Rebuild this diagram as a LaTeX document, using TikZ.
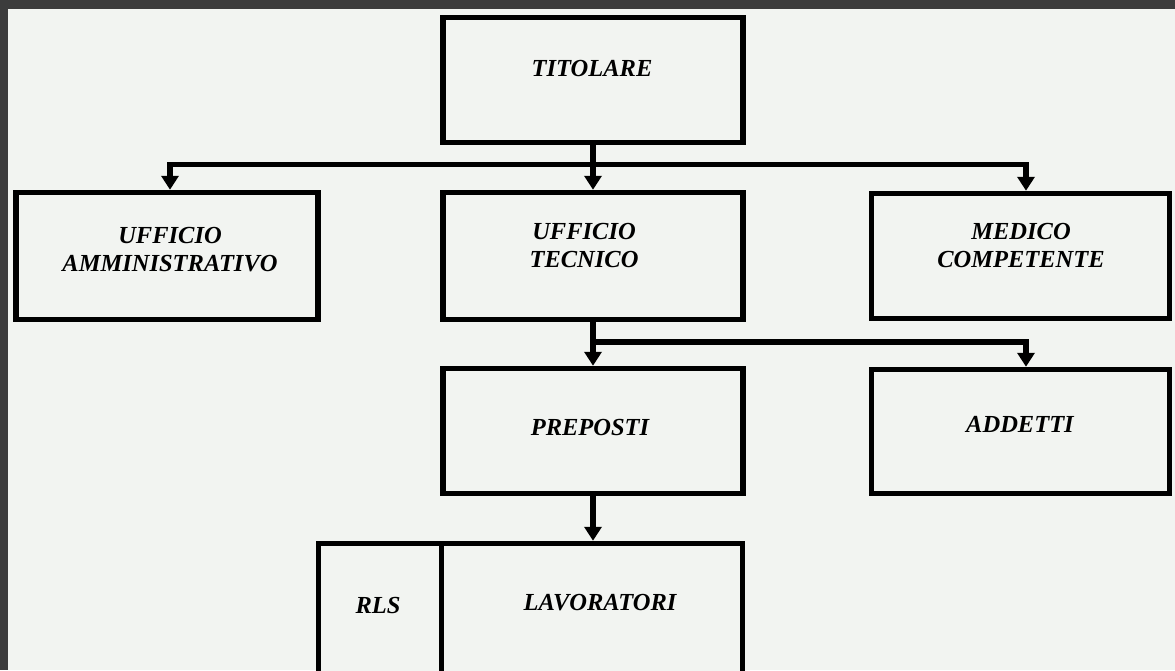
\documentclass[tikz,border=0pt]{standalone}
\usepackage{fontspec}
\setmainfont{Liberation Serif}
\usetikzlibrary{arrows.meta}
\definecolor{frame}{HTML}{3C3C3C}
\definecolor{paper}{HTML}{F2F4F1}
\begin{document}
\begin{tikzpicture}[x=1pt,y=-1pt,
  box/.style={draw=black,line width=5.5pt,fill=paper,rectangle,inner sep=0pt},
  lbl/.style={font=\fontsize{24.5}{28}\selectfont\bfseries\itshape,align=center,inner sep=0pt},
  conn/.style={draw=black,line width=5.5pt,-{Triangle[width=17pt,length=14pt]}}]
\useasboundingbox (0,0) rectangle (1175,670);
\clip (0,0) rectangle (1175,670);
\fill[frame] (0,0) rectangle (1175,670);
\fill[paper] (8,9) rectangle (1175,670);
% boxes
\node[box,minimum width=300pt,minimum height=125pt] (tit) at (593,80) {};
\node[box,minimum width=302pt,minimum height=127pt] (amm) at (167,256) {};
\node[box,minimum width=300pt,minimum height=127pt] (tec) at (593,256) {};
\node[box,minimum width=298pt,minimum height=125pt] (med) at (1020.5,256) {};
\node[box,minimum width=300pt,minimum height=125pt] (pre) at (593,431) {};
\node[box,minimum width=298pt,minimum height=124pt] (add) at (1020.5,431.5) {};
\node[box,minimum width=123pt,minimum height=134pt] (rls) at (380,610.5) {};
\node[box,minimum width=301pt,minimum height=134pt] (lav) at (592,610.5) {};
% labels
\node[lbl] (ttit) at (592,69) {TITOLARE};
\node[lbl] (tamm) at (170,250) {UFFICIO\\AMMINISTRATIVO};
\node[lbl] (ttec) at (584,246) {UFFICIO\\TECNICO};
\node[lbl] (tmed) at (1021,246) {MEDICO\\COMPETENTE};
\node[lbl] (tpre) at (590,428) {PREPOSTI};
\node[lbl] (tadd) at (1020,424) {ADDETTI};
\node[lbl] (trls) at (378,605) {RLS};
\node[lbl] (tlav) at (600,603) {LAVORATORI};
% junctions
\coordinate (j1) at (593,164.5);
\coordinate (j2) at (593,342);
\coordinate (xa) at (170,0);
\coordinate (xm) at (1026,0);
% connectors
\draw[conn] (tit.south) -- (tec.north);
\draw[conn] (j1) -| (xa |- amm.north);
\draw[conn] (j1) -| (xm |- med.north);
\draw[conn] (tec.south) -- (pre.north);
\draw[conn] (j2) -| (xm |- add.north);
\draw[conn] (pre.south) -- (pre.south |- lav.north);
\end{tikzpicture}
\end{document}
